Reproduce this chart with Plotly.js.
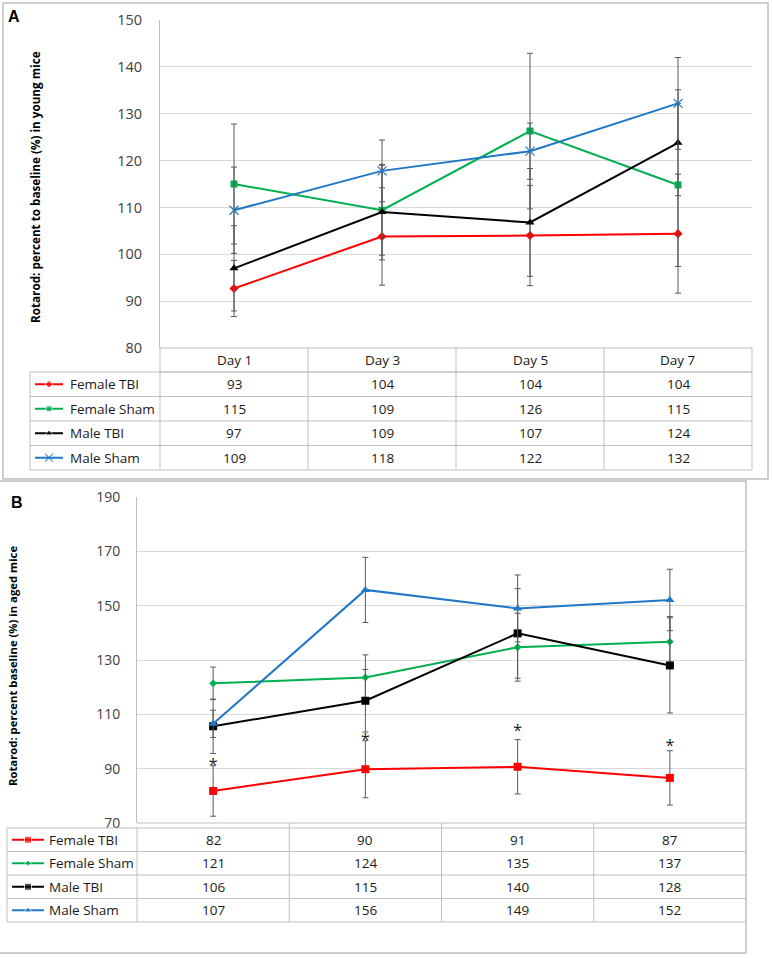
<!DOCTYPE html>
<html><head><meta charset="utf-8">
<script src="https://cdn.plot.ly/plotly-3.0.1.min.js"></script>
<style>html,body{margin:0;padding:0;background:#fff}#chart{width:773px;height:958px}</style>
</head><body><div id="chart"></div>
<script>
// ---------- DATA ----------
const days = ['Day 1', 'Day 3', 'Day 5', 'Day 7'];
const seriesNames = ['Female TBI', 'Female Sham', 'Male TBI', 'Male Sham'];

// Panel A: young mice
const aFemaleTBI = [92.7, 103.8, 104.0, 104.4];
const aFemaleTBIerr = [6.0, 10.4, 10.7, 12.7];
const aFemaleSham = [115.0, 109.4, 126.3, 114.8];
const aFemaleShamErr = [12.8, 9.6, 16.6, 17.4];
const aMaleTBI = [97.0, 109.0, 106.8, 123.8];
const aMaleTBIerr = [9.1, 10.2, 11.5, 11.3];
const aMaleSham = [109.4, 117.8, 122.0, 132.2];
const aMaleShamErr = [9.2, 6.6, 6.0, 9.8];
const aTable = [[93, 104, 104, 104], [115, 109, 126, 115], [97, 109, 107, 124], [109, 118, 122, 132]];

// Panel B: aged mice
const bFemaleTBI = [81.8, 89.8, 90.7, 86.6];
const bFemaleTBIerr = [9.3, 10.5, 10.0, 10.0];
const bFemaleSham = [121.4, 123.6, 134.7, 136.7];
const bFemaleShamErr = [6.0, 8.3, 12.5, 9.3];
const bMaleTBI = [105.6, 115.0, 139.8, 128.0];
const bMaleTBIerr = [10.0, 11.5, 16.5, 17.5];
const bMaleSham = [106.5, 155.8, 149.0, 152.1];
const bMaleShamErr = [5.0, 12.0, 12.3, 11.3];
const bStars = [91.0, 100.2, 103.4, 98.0];
const bTable = [[82, 90, 91, 87], [121, 124, 135, 137], [106, 115, 140, 128], [107, 156, 149, 152]];

const yTitleA = 'Rotarod: percent to baseline (%) in young mice';
const yTitleB = 'Rotarod: percent baseline (%) in aged mice';

// ---------- STYLE / LAYOUT ----------
const W = 773, H = 958;
const FONT = '"Open Sans", sans-serif';
const RED = '#ff0000', GREEN = '#00b050', BLACK = '#000000', BLUE = '#1f77c6';
const GRID = '#d9d9d9', BORDER = '#bfbfbf';

function eb(arr) { return { type: 'data', array: arr, visible: true, color: '#595959', thickness: 1, width: 3 }; }
function series(x, y, err, color, symbol, size, xa, ya) {
  const m = { color: color, symbol: symbol, size: size };
  if (symbol.indexOf('open') >= 0) m.line = { color: color, width: 1.2 };
  return { type: 'scatter', mode: 'lines+markers', x: x, y: y, error_y: eb(err),
    line: { color: color, width: 2 }, marker: m, xaxis: xa, yaxis: ya, showlegend: false, hoverinfo: 'skip' };
}

const symA = ['diamond', 'square', 'triangle-up', 'x-thin-open'];
const sizeA = [7, 7, 8, 9];
const symB = ['square', 'diamond', 'square', 'triangle-up'];
const sizeB = [8, 6, 8, 8];
const cols = [RED, GREEN, BLACK, BLUE];

const traces = [
  series(days, aFemaleTBI, aFemaleTBIerr, RED, symA[0], sizeA[0], 'x', 'y'),
  series(days, aFemaleSham, aFemaleShamErr, GREEN, symA[1], sizeA[1], 'x', 'y'),
  series(days, aMaleTBI, aMaleTBIerr, BLACK, symA[2], sizeA[2], 'x', 'y'),
  series(days, aMaleSham, aMaleShamErr, BLUE, symA[3], sizeA[3], 'x', 'y'),
  series(days, bFemaleTBI, bFemaleTBIerr, RED, symB[0], sizeB[0], 'x2', 'y2'),
  series(days, bFemaleSham, bFemaleShamErr, GREEN, symB[1], sizeB[1], 'x2', 'y2'),
  series(days, bMaleTBI, bMaleTBIerr, BLACK, symB[2], sizeB[2], 'x2', 'y2'),
  series(days, bMaleSham, bMaleShamErr, BLUE, symB[3], sizeB[3], 'x2', 'y2'),
  { type: 'scatter', mode: 'text', x: days, y: bStars, text: days.map(() => '*'), textposition: 'middle center',
    textfont: { family: FONT, size: 16, color: '#222222' }, xaxis: 'x2', yaxis: 'y2', showlegend: false, hoverinfo: 'skip' }
];

// geometry (pixels)
const A = { left: 160, right: 752, top: 20, bottom: 348, tabLeft: 30, headBottom: 372, rows: [372, 396.5, 421, 445.5, 470], keyX: [35, 49, 63], textX: 68 };
const B = { left: 137, right: 746, top: 497, bottom: 823, tabLeft: 7, rows: [828, 851.5, 875, 898.5, 922], keyX: [12, 28, 44], textX: 47 };

const shapes = [];
const annotations = [];
function ln(x0, y0, x1, y1, color) {
  shapes.push({ type: 'line', xref: 'x3', yref: 'y3', x0: x0, y0: y0, x1: x1, y1: y1, line: { color: color || BORDER, width: 1 }, layer: 'above' });
}
function txt(x, y, t, xref, anchor) {
  annotations.push({ xref: xref || 'x3', yref: 'y3', x: x, y: y, text: t, showarrow: false, xanchor: anchor || 'center', yanchor: 'middle',
    font: { family: FONT, size: 13.5, color: '#1a1a1a' } });
}

// outer boxes
shapes.push({ type: 'rect', xref: 'x3', yref: 'y3', x0: 3, y0: 3, x1: 768, y1: 479, line: { color: BORDER, width: 1.5 }, layer: 'above' });
shapes.push({ type: 'rect', xref: 'x3', yref: 'y3', x0: -2, y0: 481, x1: 746, y1: 953, line: { color: BORDER, width: 1.5 }, layer: 'above' });

// Panel A table
const wA = (A.right - A.left) / 4;
ln(A.left, A.bottom, A.right, A.bottom);
ln(A.left, A.headBottom, A.right, A.headBottom);
A.rows.forEach(y => ln(A.tabLeft, y, A.right, y));
ln(A.tabLeft, A.rows[0], A.tabLeft, A.rows[4]);
for (let k = 0; k <= 4; k++) ln(A.left + k * wA, A.bottom, A.left + k * wA, A.rows[4]);
days.forEach((d, j) => txt(d, (A.bottom + A.headBottom) / 2, d, 'x'));
seriesNames.forEach((s, i) => {
  const yc = (A.rows[i] + A.rows[i + 1]) / 2;
  txt(A.textX, yc, s, 'x3', 'left');
  aTable[i].forEach((v, j) => txt(days[j], yc, String(v), 'x'));
});

// Panel B table
const wB = (B.right - B.left) / 4;
ln(B.left, B.bottom, B.right, B.bottom);
B.rows.forEach(y => ln(B.tabLeft, y, B.right, y));
ln(B.tabLeft, B.rows[0], B.tabLeft, B.rows[4]);
ln(B.left, B.rows[0], B.left, B.rows[4]);
for (let k = 1; k < 4; k++) ln(B.left + k * wB, B.bottom, B.left + k * wB, B.rows[4]);
seriesNames.forEach((s, i) => {
  const yc = (B.rows[i] + B.rows[i + 1]) / 2;
  txt(B.textX, yc, s, 'x3', 'left');
  bTable[i].forEach((v, j) => txt(days[j], yc, String(v), 'x2'));
});

// legend keys in table rows
seriesNames.forEach((s, i) => {
  const ya = (A.rows[i] + A.rows[i + 1]) / 2;
  const mA = { color: cols[i], symbol: symA[i], size: [0, sizeA[i] - 1, 0] };
  if (symA[i].indexOf('open') >= 0) mA.line = { color: cols[i], width: 1.2 };
  traces.push({ type: 'scatter', mode: 'lines+markers', x: A.keyX, y: [ya, ya, ya], line: { color: cols[i], width: 2 }, marker: mA,
    xaxis: 'x3', yaxis: 'y3', showlegend: false, hoverinfo: 'skip' });
  const yb = (B.rows[i] + B.rows[i + 1]) / 2;
  traces.push({ type: 'scatter', mode: 'lines+markers', x: B.keyX, y: [yb, yb, yb], line: { color: cols[i], width: 2 },
    marker: { color: cols[i], symbol: symB[i], size: [0, sizeB[i] - 1, 0] }, xaxis: 'x3', yaxis: 'y3', showlegend: false, hoverinfo: 'skip' });
});

// panel letters and y titles
annotations.push({ xref: 'x3', yref: 'y3', x: 14, y: 16, text: '<b>A</b>', showarrow: false, xanchor: 'center', yanchor: 'middle', font: { family: 'Liberation Sans, Arial, sans-serif', size: 16, color: '#000' } });
annotations.push({ xref: 'x3', yref: 'y3', x: 17, y: 502, text: '<b>B</b>', showarrow: false, xanchor: 'center', yanchor: 'middle', font: { family: 'Liberation Sans, Arial, sans-serif', size: 16, color: '#000' } });
annotations.push({ xref: 'x3', yref: 'y3', x: 35, y: 187, text: '<b>' + yTitleA + '</b>', textangle: -90, showarrow: false, xanchor: 'center', yanchor: 'middle', font: { family: FONT, size: 11.7, color: '#000' } });
annotations.push({ xref: 'x3', yref: 'y3', x: 12, y: 666, text: '<b>' + yTitleB + '</b>', textangle: -90, showarrow: false, xanchor: 'center', yanchor: 'middle', font: { family: FONT, size: 11.3, color: '#000' } });

const xBase = { type: 'category', range: [-0.5, 3.5], showticklabels: false, showgrid: false, zeroline: false, showline: false, ticks: '', fixedrange: true };
const yBase = { showgrid: true, gridcolor: GRID, gridwidth: 1, zeroline: false, showline: true, linecolor: BORDER, linewidth: 1, ticks: '', fixedrange: true,
  tickfont: { family: FONT, size: 14.5, color: '#404040' } };

const layout = {
  width: W, height: H, margin: { l: 0, r: 0, t: 0, b: 0 },
  paper_bgcolor: '#ffffff', plot_bgcolor: 'rgba(0,0,0,0)', hovermode: false,
  xaxis: Object.assign({}, xBase, { domain: [A.left / W, A.right / W], anchor: 'y' }),
  yaxis: Object.assign({}, yBase, { domain: [1 - A.bottom / H, 1 - A.top / H], range: [80, 150], tick0: 80, dtick: 10, anchor: 'x', ticklabelstandoff: 14 }),
  xaxis2: Object.assign({}, xBase, { domain: [B.left / W, B.right / W], anchor: 'y2' }),
  yaxis2: Object.assign({}, yBase, { domain: [1 - B.bottom / H, 1 - B.top / H], range: [70, 190], tick0: 70, dtick: 20, anchor: 'x2', ticklabelstandoff: 13, tickfont: { family: FONT, size: 14, color: '#404040' } }),
  xaxis3: { domain: [0, 1], range: [0, W], visible: false, fixedrange: true, anchor: 'y3' },
  yaxis3: { domain: [0, 1], range: [H, 0], visible: false, fixedrange: true, anchor: 'x3' },
  shapes: shapes, annotations: annotations
};

Plotly.newPlot('chart', traces, layout, { staticPlot: true, displayModeBar: false });
</script></body></html>
